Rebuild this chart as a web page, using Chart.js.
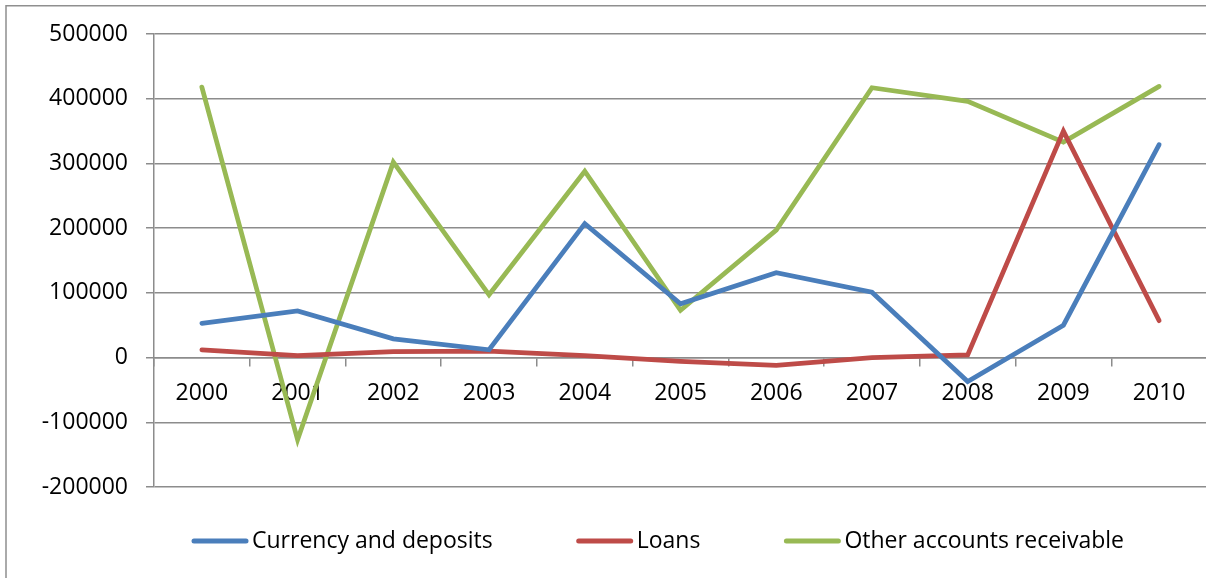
<!DOCTYPE html>
<html>
<head>
<meta charset="utf-8">
<script src="https://cdn.jsdelivr.net/npm/chart.js@4/dist/chart.umd.min.js"></script>
<style>
  html, body { margin: 0; padding: 0; background: #ffffff; overflow: hidden; }
  #wrap { position: absolute; left: 0; top: 0; width: 1316px; height: 578px; }
</style>
</head>
<body>
<div id="wrap"><canvas id="chart" width="1316" height="578"></canvas></div>
<script>
// Years on the category axis
const years = ['2000', '2001', '2002', '2003', '2004', '2005', '2006', '2007', '2008', '2009', '2010'];

// Series values
const currencyDeposits = [53000, 72000, 29000, 12000, 207000, 83000, 131000, 101000, -37000, 50000, 329000];
const loans = [12000, 3000, 9000, 10000, 3000, -6000, -12000, 0, 4000, 350000, 57000];
const otherReceivable = [418000, -127000, 302000, 97000, 288000, 73000, 197000, 417000, 396000, 333000, 419000];

const seriesNames = ['Currency and deposits', 'Loans', 'Other accounts receivable'];
const seriesColors = ['#4a7ebb', '#be4b48', '#98b954'];

// Value axis range
const yMin = -200000;
const yMax = 500000;
const yStep = 100000;

const FONT_FAMILY = '"Open Sans", Lato, sans-serif';
const FONT_SIZE = 23;
const GRID = '#8c8c8c';

// Outer chart frame
const framePlugin = {
  id: 'frame',
  beforeDraw(chart) {
    const ctx = chart.ctx;
    ctx.save();
    ctx.strokeStyle = '#8f8f8f';
    ctx.lineWidth = 1.5;
    ctx.strokeRect(6, 5.75, 1400, 800);
    ctx.restore();
  }
};

// Legend row under the plot: line swatch followed by the series name
const lineLegendPlugin = {
  id: 'lineLegend',
  afterDraw(chart) {
    const ctx = chart.ctx;
    const swatch = 52, swatchWidth = 5, gap = 6, spacing = 86;
    const centerX = 659, centerY = 541;
    ctx.save();
    ctx.font = FONT_SIZE + 'px ' + FONT_FAMILY;
    const items = chart.data.datasets.map(ds => ({
      text: ds.label, color: ds.borderColor, w: ctx.measureText(ds.label).width
    }));
    const total = items.reduce((s, it) => s + swatch + gap + it.w, 0) + spacing * (items.length - 1);
    let x = centerX - total / 2;
    ctx.textBaseline = 'middle';
    ctx.textAlign = 'left';
    items.forEach(it => {
      ctx.beginPath();
      ctx.strokeStyle = it.color;
      ctx.lineWidth = swatchWidth;
      ctx.lineCap = 'round';
      ctx.moveTo(x, centerY);
      ctx.lineTo(x + swatch, centerY);
      ctx.stroke();
      ctx.fillStyle = '#000000';
      ctx.fillText(it.text, x + swatch + gap, centerY);
      x += swatch + gap + it.w + spacing;
    });
    ctx.restore();
  }
};

const lineStyle = {
  borderWidth: 4.75,
  pointRadius: 0,
  pointHoverRadius: 0,
  tension: 0,
  borderCapStyle: 'round',
  borderJoinStyle: 'miter',
  fill: false
};

new Chart(document.getElementById('chart'), {
  type: 'line',
  data: {
    labels: years,
    datasets: [
      Object.assign({ label: seriesNames[0], data: currencyDeposits, borderColor: seriesColors[0], backgroundColor: seriesColors[0] }, lineStyle),
      Object.assign({ label: seriesNames[1], data: loans, borderColor: seriesColors[1], backgroundColor: seriesColors[1] }, lineStyle),
      Object.assign({ label: seriesNames[2], data: otherReceivable, borderColor: seriesColors[2], backgroundColor: seriesColors[2] }, lineStyle)
    ]
  },
  options: {
    responsive: false,
    animation: false,
    events: [],
    layout: { padding: { left: 0, right: 109, top: 34, bottom: 91 } },
    plugins: {
      legend: { display: false },
      tooltip: { enabled: false }
    },
    scales: {
      x: {
        type: 'category',
        position: { y: 0 },
        offset: true,
        grid: {
          offset: true,
          drawOnChartArea: false,
          drawTicks: true,
          tickLength: 8,
          color: GRID,
          lineWidth: 1.5
        },
        border: { display: true, color: GRID, width: 1.5 },
        ticks: {
          color: '#000000',
          font: { family: FONT_FAMILY, size: FONT_SIZE },
          padding: 14,
          maxRotation: 0,
          autoSkip: false
        }
      },
      y: {
        min: yMin,
        max: yMax,
        grid: {
          color: GRID,
          lineWidth: 1.5,
          drawTicks: true,
          tickLength: 8
        },
        border: { display: true, color: GRID, width: 1.5 },
        ticks: {
          stepSize: yStep,
          color: '#000000',
          font: { family: FONT_FAMILY, size: FONT_SIZE },
          padding: 18,
          callback: v => String(v)
        },
        afterFit(scale) { scale.width = 154; }
      }
    }
  },
  plugins: [framePlugin, lineLegendPlugin]
});
</script>
</body>
</html>
